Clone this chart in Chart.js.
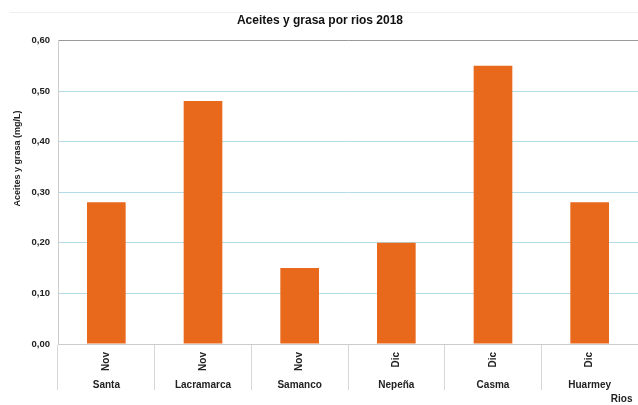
<!DOCTYPE html>
<html>
<head>
<meta charset="utf-8">
<script src="https://cdn.jsdelivr.net/npm/chart.js@4"></script>
<style>
  html, body { margin: 0; padding: 0; background: #fff; }
  #wrap { position: relative; width: 638px; height: 405px; }
  #wrap:before { content: ""; position: absolute; left: 10px; right: 0; top: 12px; border-top: 1px solid #eeeeee; }
</style>
</head>
<body>
<div id="wrap"><canvas id="chart" width="638" height="405"></canvas></div>
<script>
// datos
const rios = ['Santa', 'Lacramarca', 'Samanco', 'Nepeña', 'Casma', 'Huarmey'];
const meses = ['Nov', 'Nov', 'Nov', 'Dic', 'Dic', 'Dic'];
const aceites = [0.28, 0.48, 0.15, 0.20, 0.55, 0.28];
const yTicks = [0, 0.1, 0.2, 0.3, 0.4, 0.5, 0.6];

const fuente = 'Liberation Sans, Arial, sans-serif';

new Chart(document.getElementById('chart'), {
  type: 'bar',
  data: {
    labels: meses,
    datasets: [{
      label: 'Aceites y grasa',
      data: aceites,
      backgroundColor: '#e8691c',
      borderWidth: 0,
      barPercentage: 0.4,
      categoryPercentage: 1,
      xAxisID: 'x'
    }]
  },
  options: {
    responsive: false,
    animation: false,
    layout: { padding: { left: 12, right: 0, top: 0, bottom: 0 } },
    plugins: {
      legend: { display: false },
      tooltip: { enabled: false },
      title: {
        display: true,
        text: 'Aceites y grasa por rios 2018   ',
        color: '#111',
        font: { family: fuente, size: 12, weight: 'bold' },
        padding: { top: 13, bottom: 13 }
      }
    },
    scales: {
      x: {
        type: 'category',
        position: 'bottom',
        offset: true,
        grid: {
          offset: true,
          drawOnChartArea: false,
          color: '#d6d6d6',
          tickLength: 46
        },
        border: { color: '#cccccc' },
        ticks: {
          autoSkip: false,
          minRotation: 90,
          maxRotation: 90,
          padding: -38,
          color: '#222',
          font: { family: fuente, size: 10, weight: 'bold' }
        },
        afterFit: s => { s.height = 32; }
      },
      x2: {
        type: 'category',
        position: 'bottom',
        labels: rios,
        offset: true,
        grid: { display: false, drawTicks: false },
        border: { display: false },
        ticks: {
          autoSkip: false,
          maxRotation: 0,
          padding: 3,
          color: '#222',
          font: { family: fuente, size: 10, weight: 'bold' }
        },
        title: {
          display: true,
          text: 'Rios  ',
          align: 'end',
          color: '#222',
          padding: { top: 0, bottom: 0 },
          font: { family: fuente, size: 10, weight: 'bold' }
        },
        afterFit: s => { s.height = 29; }
      },
      y: {
        min: 0,
        max: 0.6,
        afterBuildTicks: s => { s.ticks = yTicks.map(v => ({ value: v })); },
        grid: {
          drawTicks: false,
          color: c => c.tick && c.tick.value >= 0.6 ? '#9a9a9a' : (c.tick && c.tick.value === 0 ? '#cccccc' : '#b3dbe8'),
          lineWidth: 1
        },
        border: { color: '#cccccc' },
        ticks: {
          padding: 8,
          color: '#222',
          font: { family: fuente, size: 9.5, weight: 'bold' },
          callback: v => v.toFixed(2).replace('.', ',')
        },
        title: {
          display: true,
          text: '                           Aceites y grasa (mg/L)',
          color: '#222',
          padding: { top: 0, bottom: 4 },
          font: { family: fuente, size: 9, weight: 'bold' }
        },
        afterFit: s => { s.width = 46; }
      }
    }
  }
});
</script>
</body>
</html>
